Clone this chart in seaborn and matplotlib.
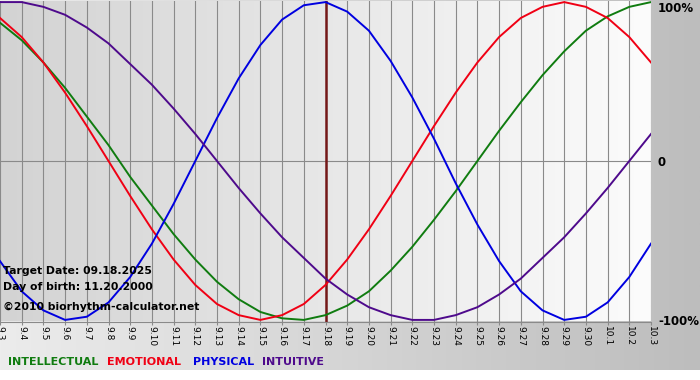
import numpy as np
import pandas as pd
import matplotlib
matplotlib.use('Agg')
import matplotlib.pyplot as plt
from matplotlib.colors import LinearSegmentedColormap
import seaborn as sns

# day labels on the x axis (9.3 .. 10.3)
days = ['9.3', '9.4', '9.5', '9.6', '9.7', '9.8', '9.9', '9.10', '9.11', '9.12',
        '9.13', '9.14', '9.15', '9.16', '9.17', '9.18', '9.19', '9.20', '9.21',
        '9.22', '9.23', '9.24', '9.25', '9.26', '9.27', '9.28', '9.29', '9.30',
        '10.1', '10.2', '10.3']

# cycle values, -1 .. 1
intellectual = [0.87, 0.76, 0.62, 0.46, 0.28, 0.10, -0.10, -0.28, -0.46, -0.62,
                -0.76, -0.87, -0.95, -0.99, -1.00, -0.97, -0.91, -0.82, -0.69,
                -0.54, -0.37, -0.19, 0.00, 0.19, 0.37, 0.54, 0.69, 0.82, 0.91,
                0.97, 1.00]
emotional = [0.90, 0.78, 0.62, 0.43, 0.22, 0.00, -0.22, -0.43, -0.62, -0.78,
             -0.90, -0.97, -1.00, -0.97, -0.90, -0.78, -0.62, -0.43, -0.22,
             0.00, 0.22, 0.43, 0.62, 0.78, 0.90, 0.97, 1.00, 0.97, 0.90, 0.78,
             0.62]
physical = [-0.63, -0.82, -0.94, -1.00, -0.98, -0.89, -0.73, -0.52, -0.27, 0.00,
            0.27, 0.52, 0.73, 0.89, 0.98, 1.00, 0.94, 0.82, 0.63, 0.40, 0.14,
            -0.14, -0.40, -0.63, -0.82, -0.94, -1.00, -0.98, -0.89, -0.73, -0.52]
intuitive = [1.00, 1.00, 0.97, 0.92, 0.84, 0.74, 0.61, 0.48, 0.33, 0.17, 0.00,
             -0.17, -0.33, -0.48, -0.61, -0.74, -0.84, -0.92, -0.97, -1.00,
             -1.00, -0.97, -0.92, -0.84, -0.74, -0.61, -0.48, -0.33, -0.17,
             0.00, 0.17]

cycles = ['INTELLECTUAL', 'EMOTIONAL', 'PHYSICAL', 'INTUITIVE']
colors = ['#107c10', '#f00014', '#0000e0', '#4e0a8c']
target_day = '9.18'
target_date = '09.18.2025'
birth_date = '11.20.2000'

df = pd.DataFrame({'day': range(len(days)),
                   'INTELLECTUAL': intellectual,
                   'EMOTIONAL': emotional,
                   'PHYSICAL': physical,
                   'INTUITIVE': intuitive})
df = df.melt(id_vars='day', var_name='cycle', value_name='value')

fig = plt.figure(figsize=(7, 3.8), dpi=100)
fig.patch.set_facecolor('white')

# grey background band behind everything
bg = fig.add_axes([0, 10 / 380, 1, 370 / 380], zorder=-5)
bg_cmap = LinearSegmentedColormap.from_list('bg', ['#ececec', '#bdbdbd'])
bg.imshow(np.linspace(0, 1, 256)[None, :], cmap=bg_cmap, aspect='auto',
          extent=(0, 1, 0, 1))
bg.axis('off')

ax = fig.add_axes([0, 1 - 321.5 / 380, 651 / 700, 321 / 380])
ax.set_facecolor('none')
plot_cmap = LinearSegmentedColormap.from_list('pl', ['#d3d3d3', '#fcfcfc'])
ax.imshow(np.linspace(0, 1, 256)[None, :], cmap=plot_cmap, aspect='auto',
          extent=(0, len(days) - 1, -1.01, 1.01), zorder=0)

ax.set_xticks(range(len(days)))
ax.grid(axis='x', color='#8a8a8a', lw=0.8, zorder=1)
ax.axhline(0, color='#8a8a8a', lw=0.8, zorder=1)
ax.axvline(days.index(target_day), color='#741818', lw=1.8, zorder=2)

sns.lineplot(data=df, x='day', y='value', hue='cycle', hue_order=cycles,
             palette=colors, linewidth=1.4, legend=False, ax=ax, zorder=3)

ax.set_xlim(0, len(days) - 1)
ax.set_ylim(-1.01, 1.01)
ax.set_xlabel('')
ax.set_ylabel('')
ax.set_xticklabels(days, rotation=-90, fontsize=6.5, va='top')
ax.tick_params(axis='x', length=2, color='#8a8a8a', pad=1)

ax.yaxis.tick_right()
ax.set_yticks([1, 0, -1])
ax.set_yticklabels(['100%', '0', '-100%'], fontsize=8.5, fontweight='bold')
ax.tick_params(axis='y', length=0, pad=5)
ax.get_yticklabels()[0].set_verticalalignment('top')

for side in ['top', 'left', 'right']:
    ax.spines[side].set_visible(False)
ax.spines['bottom'].set_color('#8a8a8a')
ax.spines['bottom'].set_linewidth(0.8)

# info text in the lower left corner
info_kw = dict(transform=ax.transAxes, fontsize=7.8, fontweight='bold',
               va='center', zorder=4)
ax.text(3 / 651, 0.157, 'Target Date: ' + target_date, **info_kw)
ax.text(3 / 651, 0.107, 'Day of birth: ' + birth_date, **info_kw)
ax.text(3 / 651, 0.045, '\u00a92010 biorhythm-calculator.net', **info_kw)

# coloured legend words under the axis
legend_x = [8, 107, 193, 262]
for name, col, xp in zip(cycles, colors, legend_x):
    fig.text(xp / 700, 1 - 362 / 380, name, color=col, fontsize=8,
             fontweight='bold', va='center')

fig.savefig('out.png', dpi=100)
